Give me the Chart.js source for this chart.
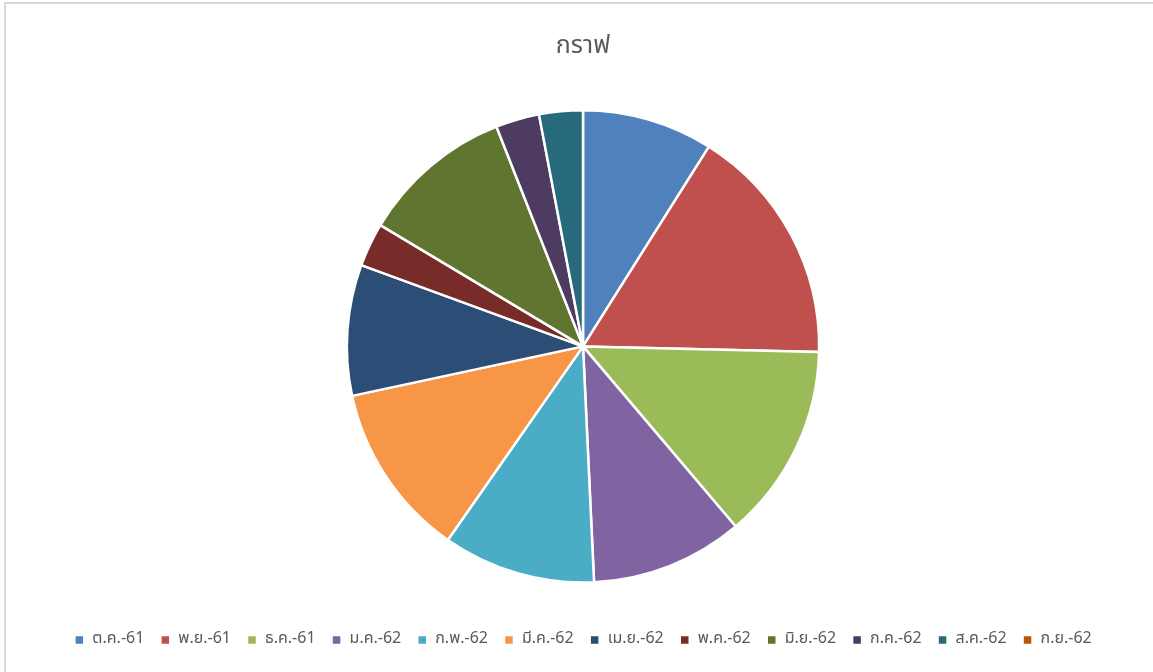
<!DOCTYPE html>
<html>
<head>
<meta charset="utf-8">
<script src="https://cdn.jsdelivr.net/npm/chart.js@4.4.1/dist/chart.umd.min.js"></script>
<style>
html,body{margin:0;padding:0;background:#fff;overflow:hidden;}
#frame{position:absolute;left:4px;top:2px;width:1200px;height:700px;border-left:2px solid #d9d9d9;border-top:2px solid #d9d9d9;}
#wrap{position:absolute;left:0;top:0;width:1153px;height:672px;}
</style>
</head>
<body>
<div id="frame"></div>
<div id="wrap"><canvas id="c"></canvas></div>
<script>
const titleText = 'กราฟ';
const categories = ['ต.ค.-61','พ.ย.-61','ธ.ค.-61','ม.ค.-62','ก.พ.-62','มี.ค.-62','เม.ย.-62','พ.ค.-62','มิ.ย.-62','ก.ค.-62','ส.ค.-62','ก.ย.-62'];
const values = [6, 11, 9, 7, 7, 8, 6, 2, 7, 2, 2, 0];
const colors = ['#4F81BD','#C0504D','#9BBB59','#8064A2','#4BACC6','#F79646','#2C4D75','#772C2A','#5F7530','#4D3B62','#276A7C','#B65708'];

const fontFam = "'Noto Sans Thai','Tahoma','Noto Sans','DejaVu Sans',sans-serif";
new Chart(document.getElementById('c'), {
  type: 'pie',
  data: {
    labels: categories,
    datasets: [{
      data: values,
      backgroundColor: colors,
      borderColor: '#ffffff',
      borderWidth: 2.5
    }]
  },
  options: {
    responsive: true,
    maintainAspectRatio: false,
    animation: false,
    layout: { padding: { left: 13, right: 0, top: 0, bottom: 14 } },
    plugins: {
      title: {
        display: true,
        text: titleText,
        color: '#595959',
        font: { family: fontFam, size: 25, weight: 'normal' },
        padding: { top: 33, bottom: 46 }
      },
      legend: {
        position: 'bottom',
        title: { display: true, text: '', font: { size: 1 }, padding: { top: 31, bottom: 0 } },
        labels: {
          color: '#595959',
          font: { family: fontFam, size: 16 },
          boxWidth: 10,
          boxHeight: 10,
          padding: 16
        }
      },
      tooltip: { enabled: false }
    }
  }
});
</script>
</body>
</html>
